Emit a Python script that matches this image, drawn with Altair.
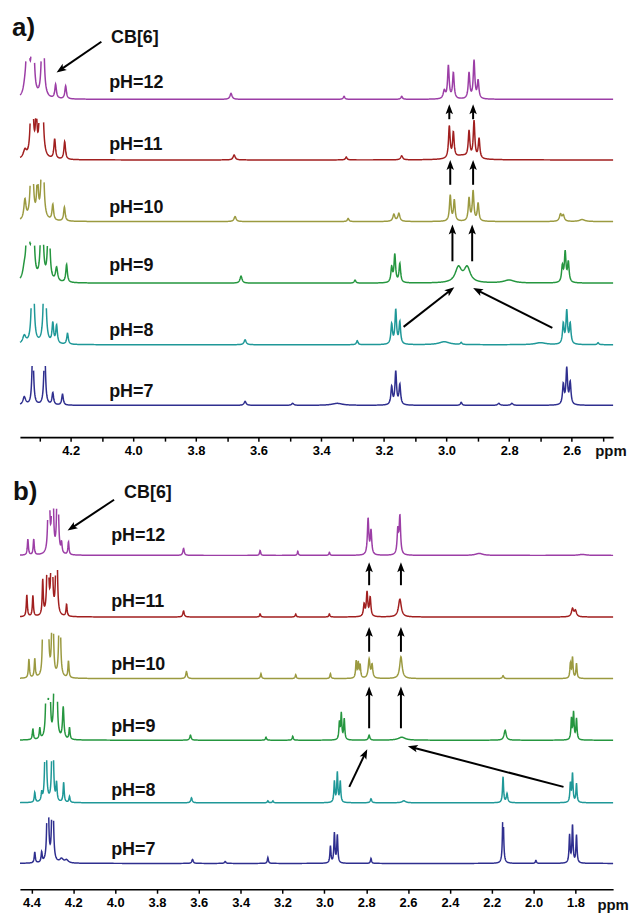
import math
import numpy as np
import pandas as pd
import altair as alt

PH_LABELS = ["pH=7", "pH=8", "pH=9", "pH=10", "pH=11", "pH=12"]
LINE_COLORS = ["#2f2f8f", "#1f9898", "#25963f", "#9b9a40", "#a11f1f", "#9c3ea6"]

# ---------------- panel a ----------------
A_RANGE = [2.468, 4.362]
A_TICKS = [4.3, 4.2, 4.1, 4.0, 3.9, 3.8, 3.7, 3.6, 3.5, 3.4, 3.3, 3.2, 3.1, 3.0, 2.9, 2.8, 2.7, 2.6, 2.5]
A_TICK_LABELS = ["4.2", "4.0", "3.8", "3.6", "3.4", "3.2", "3.0", "2.8", "2.6"]
A_OFFSETS = [32, 93, 155, 217, 279, 340]
A_CAP = 43
# peaks: (ppm, height, half width)
A_PH7 = [(4.348, 8, 0.005), (4.321, 60, 0.003), (4.283, 60, 0.003), (4.257, 12, 0.003), (4.226, 11, 0.003),
         (3.643, 4, 0.004), (3.491, 2, 0.004), (3.349, 2, 0.02), (3.175, 18, 0.003), (3.162, 33, 0.003),
         (3.149, 20, 0.003), (2.953, 3, 0.003), (2.833, 2, 0.004), (2.791, 2, 0.004),
         (2.627, 20, 0.003), (2.616, 36, 0.003), (2.605, 22, 0.003)]
A_PH8 = [(4.348, 8, 0.006), (4.321, 150, 0.003), (4.283, 150, 0.003), (4.257, 20, 0.003), (4.245, 18, 0.003),
         (4.210, 11, 0.003), (3.643, 5, 0.004), (3.285, 4, 0.003), (3.175, 20, 0.003), (3.162, 34, 0.003),
         (3.149, 22, 0.003), (3.007, 3, 0.02), (2.953, 2, 0.003), (2.70, 2, 0.02),
         (2.627, 20, 0.003), (2.616, 33, 0.003), (2.605, 20, 0.003), (2.516, 2, 0.003)]
A_PH9 = [(4.348, 10, 0.006), (4.337, 150, 0.003), (4.321, 150, 0.003), (4.292, 150, 0.003), (4.270, 100, 0.003),
         (4.245, 14, 0.004), (4.213, 18, 0.003), (3.656, 7, 0.004), (3.292, 3, 0.003),
         (3.175, 15, 0.003), (3.165, 28, 0.003), (3.149, 19, 0.003), (2.962, 15, 0.012), (2.934, 15, 0.012),
         (2.80, 3, 0.02), (2.630, 16, 0.003), (2.621, 30, 0.003), (2.611, 20, 0.003)]
A_PH10 = [(4.346, 20, 0.004), (4.324, 150, 0.003), (4.306, 40, 0.003), (4.290, 150, 0.003), (4.257, 16, 0.003),
          (4.220, 14, 0.003), (3.675, 5, 0.004), (3.314, 3, 0.003), (3.168, 7, 0.004), (3.152, 8, 0.004),
          (2.988, 26, 0.003), (2.975, 21, 0.003), (2.928, 23, 0.003), (2.915, 30, 0.003), (2.899, 18, 0.003),
          (2.636, 7, 0.004), (2.627, 6, 0.004), (2.567, 2, 0.01)]
A_PH11 = [(4.346, 8, 0.006), (4.324, 150, 0.003), (4.310, 40, 0.003), (4.298, 40, 0.003), (4.292, 150, 0.003),
          (4.251, 20, 0.003), (4.219, 18, 0.003), (3.678, 5, 0.004), (3.320, 3, 0.003), (3.143, 4, 0.004),
          (2.991, 32, 0.003), (2.978, 25, 0.003), (2.95, 4, 0.03), (2.928, 26, 0.003), (2.912, 37, 0.003),
          (2.896, 20, 0.003)]
A_PH12 = [(4.346, 8, 0.006), (4.337, 150, 0.003), (4.321, 150, 0.003), (4.289, 150, 0.003), (4.248, 14, 0.003),
          (4.216, 13, 0.003), (3.688, 6, 0.004), (3.327, 3, 0.003), (3.143, 3, 0.003),
          (3.007, 8, 0.004), (2.994, 33, 0.003), (2.978, 26, 0.003), (2.928, 26, 0.003), (2.912, 38, 0.003),
          (2.899, 18, 0.003)]
A_PEAKS = [A_PH7, A_PH8, A_PH9, A_PH10, A_PH11, A_PH12]
A_LABEL_X = 4.077
A_LABEL_Y = [40, 102, 167, 226, 289, 351]
A_ARROWS = [(4.102, 398, 4.245, 367),
            (2.991, 320, 2.991, 335), (2.915, 320, 2.915, 335),
            (2.988, 254, 2.988, 279), (2.915, 254, 2.915, 279),
            (2.981, 177, 2.981, 214), (2.918, 177, 2.918, 214),
            (3.137, 111, 2.975, 151), (2.662, 110, 2.915, 150)]
A_NOTES = [("a)", 4.387, 404, 26), ("CB[6]", 4.071, 397, 18), ("ppm", 2.525, -19, 15)]

# ---------------- panel b ----------------
B_RANGE = [1.62, 4.455]
B_TICKS = [4.4, 4.2, 4.0, 3.8, 3.6, 3.4, 3.2, 3.0, 2.8, 2.6, 2.4, 2.2, 2.0, 1.8]
B_TICK_LABELS = ["4.4", "4.2", "4.0", "3.8", "3.6", "3.4", "3.2", "3.0", "2.8", "2.6", "2.4", "2.2", "2.0", "1.8"]
B_OFFSETS = [26, 87, 150, 212, 274, 336]
B_CAP = 48
B_PH7 = [(4.384, 11, 0.003), (4.351, 10, 0.003), (4.322, 150, 0.003), (4.299, 150, 0.003), (4.256, 4, 0.01),
         (4.232, 3, 0.01), (3.630, 4, 0.004), (3.474, 2, 0.004), (3.270, 6, 0.003),
         (2.971, 17, 0.003), (2.952, 30, 0.003), (2.938, 28, 0.003), (2.777, 5, 0.003),
         (2.146, 60, 0.003), (1.989, 3, 0.003), (1.828, 28, 0.003), (1.814, 38, 0.003), (1.795, 28, 0.003)]
B_PH8 = [(4.384, 10, 0.003), (4.351, 8, 0.003), (4.332, 150, 0.003), (4.299, 150, 0.003), (4.280, 18, 0.003),
         (4.246, 20, 0.003), (4.218, 6, 0.003), (3.635, 5, 0.004), (3.270, 2, 0.003), (3.246, 2, 0.003),
         (2.952, 21, 0.003), (2.938, 30, 0.003), (2.924, 21, 0.003), (2.777, 4, 0.004), (2.620, 2, 0.01),
         (2.146, 26, 0.003), (2.127, 9, 0.004), (1.824, 19, 0.003), (1.814, 29, 0.003), (1.795, 19, 0.003)]
B_PH9 = [(4.393, 11, 0.003), (4.360, 11, 0.003), (4.327, 150, 0.003), (4.313, 100, 0.003), (4.289, 150, 0.003),
         (4.280, 100, 0.003), (4.248, 32, 0.004), (4.218, 12, 0.003), (3.640, 5, 0.004), (3.279, 3, 0.003),
         (3.151, 4, 0.003), (2.928, 17, 0.003), (2.919, 26, 0.003), (2.905, 21, 0.003), (2.786, 5, 0.004),
         (2.630, 3, 0.02), (2.136, 10, 0.006), (1.819, 21, 0.003), (1.809, 27, 0.003), (1.795, 21, 0.003)]
B_PH10 = [(4.412, 19, 0.003), (4.384, 19, 0.003), (4.346, 40, 0.003), (4.336, 150, 0.003), (4.322, 150, 0.003),
          (4.299, 150, 0.003), (4.265, 150, 0.003), (4.223, 17, 0.003), (3.659, 7, 0.004), (3.303, 5, 0.003),
          (3.137, 4, 0.003), (2.971, 5, 0.003), (2.848, 17, 0.003), (2.838, 15, 0.003), (2.829, 13, 0.003),
          (2.786, 19, 0.005), (2.772, 13, 0.004), (2.634, 22, 0.007), (2.146, 3, 0.004),
          (1.824, 15, 0.003), (1.814, 21, 0.003), (1.795, 15, 0.003)]
B_PH11 = [(4.422, 22, 0.003), (4.393, 21, 0.003), (4.346, 35, 0.003), (4.322, 150, 0.003), (4.303, 150, 0.003),
          (4.280, 150, 0.003), (4.232, 12, 0.003), (3.673, 6, 0.004), (3.307, 3, 0.003), (3.137, 3, 0.003),
          (2.976, 3, 0.003), (2.810, 12, 0.004), (2.796, 24, 0.004), (2.781, 19, 0.004), (2.639, 18, 0.008),
          (1.814, 8, 0.006), (1.800, 6, 0.006)]
B_PH12 = [(4.417, 16, 0.003), (4.389, 16, 0.003), (4.317, 150, 0.003), (4.299, 150, 0.003), (4.275, 150, 0.003),
          (4.256, 10, 0.003), (4.223, 13, 0.003), (3.673, 7, 0.004), (3.307, 5, 0.003), (3.127, 4, 0.003),
          (2.976, 3, 0.003), (2.791, 36, 0.004), (2.777, 24, 0.004), (2.649, 24, 0.004), (2.639, 38, 0.004),
          (2.260, 2, 0.02), (1.767, 1, 0.02)]
B_PEAKS = [B_PH7, B_PH8, B_PH9, B_PH10, B_PH11, B_PH12]
B_LABEL_X = 4.019
B_LABEL_Y = [34, 94, 158, 221, 284, 350]
B_ARROWS = [(4.005, 392, 4.227, 361),
            (2.786, 306, 2.786, 329), (2.634, 306, 2.634, 329),
            (2.786, 239, 2.786, 264), (2.634, 239, 2.634, 264),
            (2.786, 162, 2.786, 204), (2.634, 162, 2.634, 204),
            (2.881, 103, 2.795, 141), (1.857, 103, 2.601, 144)]
B_NOTES = [("b)", 4.488, 392, 26), ("CB[6]", 3.957, 394, 18), ("ppm", 1.695, -21, 15)]

FONT = "Liberation Sans"
W = 597
HA = 429
HB = 419


def spectra_frame(peaks_list, offsets, cap, rng, step):
    grid = np.arange(rng[0], rng[1] + step / 2, step)
    frames = []
    for label, peaks, off in zip(PH_LABELS, peaks_list, offsets):
        inten = np.zeros_like(grid)
        for c, h, w in peaks:
            inten += h * w * w / (w * w + (grid - c) ** 2)
        y = np.where(inten > cap, np.nan, off + inten)
        frames.append(pd.DataFrame({"ppm": np.round(grid, 5), "y": np.round(y, 2), "pH": label}))
    return pd.concat(frames, ignore_index=True)


def arrow_frames(arrows, rng):
    k = W / (rng[1] - rng[0])
    shafts, heads = [], []
    for tx, ty, hx, hy in arrows:
        sx = -(hx - tx) * k
        sy = -(hy - ty)
        n = math.hypot(sx, sy)
        ux, uy = sx / n, sy / n
        ang = math.degrees(math.atan2(ux, -uy)) % 360
        back = 5.0
        cx = hx + back * ux / k
        cy = hy + back * uy
        shafts.append({"x1": tx, "y1": ty, "x2": cx, "y2": cy})
        heads.append({"x": cx, "y": cy, "ang": ang})
    return pd.DataFrame(shafts), pd.DataFrame(heads)


def panel(peaks_list, offsets, cap, rng, ticks, tick_labels, step, label_x, label_y, arrows, notes, height):
    xs = alt.Scale(domain=rng, reverse=True, nice=False, zero=False)
    ys = alt.Scale(domain=[0, height], nice=False, zero=False)
    df = spectra_frame(peaks_list, offsets, cap, rng, step)
    shown = ",".join("'" + t + "'" for t in tick_labels)
    label_expr = "indexof([" + shown + "], datum.label) >= 0 ? datum.label : ''"
    axis = alt.Axis(values=ticks, format=".1f", labelExpr=label_expr, title=None, grid=False,
                    domainColor="black", domainWidth=1.6, tickColor="black", tickWidth=1.5, tickSize=4,
                    labelFont=FONT, labelFontWeight="bold", labelFontSize=13, labelColor="black",
                    labelPadding=3, labelOverlap=False)
    # axis carrier layer: invisible marks at the tick values, placed inside the plot
    axis_layer = alt.Chart(pd.DataFrame({"tick": ticks})).mark_point(opacity=0, size=1).encode(
        x=alt.X("tick:Q", scale=xs, axis=axis),
        y=alt.value(height / 2),
    )
    lines = alt.Chart(df).mark_line(strokeWidth=1.5, invalid="break-paths-filter-domains").encode(
        x=alt.X("ppm:Q", scale=xs, axis=None),
        y=alt.Y("y:Q", scale=ys, axis=None),
        color=alt.Color("pH:N", scale=alt.Scale(domain=PH_LABELS, range=LINE_COLORS), legend=None),
    )
    lab_df = pd.DataFrame({"t": PH_LABELS, "x": [label_x] * len(PH_LABELS), "y": label_y})
    labels = alt.Chart(lab_df).mark_text(align="left", baseline="alphabetic", font=FONT, fontWeight="bold",
                                         fontSize=18, color="#111111").encode(
        x=alt.X("x:Q", scale=xs, axis=None), y=alt.Y("y:Q", scale=ys, axis=None), text="t:N")
    note_df = pd.DataFrame(notes, columns=["t", "x", "y", "s"])
    note_layer = alt.Chart(note_df).mark_text(align="left", baseline="alphabetic", font=FONT,
                                              fontWeight="bold", color="#111111").encode(
        x=alt.X("x:Q", scale=xs, axis=None), y=alt.Y("y:Q", scale=ys, axis=None), text="t:N",
        size=alt.Size("s:Q", scale=None, legend=None))
    shafts, heads = arrow_frames(arrows, rng)
    shaft_layer = alt.Chart(shafts).mark_rule(strokeWidth=2, color="black").encode(
        x=alt.X("x1:Q", scale=xs, axis=None), x2="x2:Q",
        y=alt.Y("y1:Q", scale=ys, axis=None), y2="y2:Q")
    head_layer = alt.Chart(heads).mark_point(shape="M0,-1L-0.75,1L0,0.55L0.75,1Z", filled=True, size=100,
                                             color="black", opacity=1, strokeWidth=0).encode(
        x=alt.X("x:Q", scale=xs, axis=None), y=alt.Y("y:Q", scale=ys, axis=None),
        angle=alt.Angle("ang:Q", scale=None))
    return alt.layer(axis_layer, lines, labels, note_layer, shaft_layer, head_layer).resolve_axis(
        x="independent").properties(width=W, height=height)


panel_a = panel(A_PEAKS, A_OFFSETS, A_CAP, A_RANGE, A_TICKS, A_TICK_LABELS,
                0.0008, A_LABEL_X, A_LABEL_Y, A_ARROWS, A_NOTES, HA)
panel_b = panel(B_PEAKS, B_OFFSETS, B_CAP, B_RANGE, B_TICKS, B_TICK_LABELS,
                0.0011, B_LABEL_X, B_LABEL_Y, B_ARROWS, B_NOTES, HB)

chart = alt.vconcat(panel_a, panel_b, spacing=14).resolve_scale(x="independent").properties(
    padding={"left": 4, "top": 0, "right": 0, "bottom": 0}
).configure_view(stroke=None)

chart.save("out.html", embed_options={"renderer": "svg", "actions": False})
